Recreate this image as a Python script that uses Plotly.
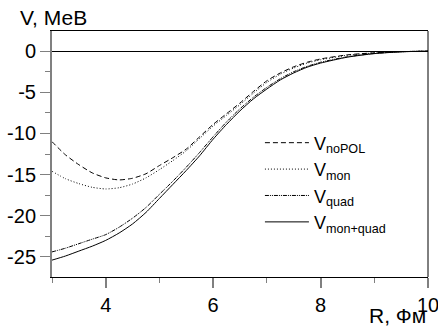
import plotly.graph_objects as go

R = [3.0, 3.25, 3.5, 3.75, 4.0, 4.25, 4.5, 4.75, 5.0, 5.25, 5.5, 5.75, 6.0, 6.25, 6.5, 6.75, 7.0, 7.25, 7.5, 7.75, 8.0, 8.5, 9.0, 9.5, 10.0]
V_noPOL = [-11.0, -12.6, -13.8, -14.8, -15.4, -15.65, -15.45, -14.9, -13.9, -12.95, -11.9, -10.4, -8.9, -7.6, -6.3, -4.9, -3.6, -2.65, -1.9, -1.35, -0.95, -0.45, -0.2, -0.06, 0.0]
V_mon = [-14.6, -15.5, -16.1, -16.55, -16.75, -16.6, -16.15, -15.4, -14.4, -13.3, -12.1, -10.6, -9.1, -7.8, -6.5, -5.1, -3.8, -2.8, -2.05, -1.45, -1.05, -0.5, -0.22, -0.06, 0.0]
V_quad = [-24.4, -23.95, -23.4, -22.85, -22.3, -21.4, -20.3, -19.0, -17.4, -15.8, -14.1, -12.3, -10.4, -8.6, -7.0, -5.6, -4.4, -3.35, -2.5, -1.85, -1.35, -0.68, -0.28, -0.07, 0.0]
V_monquad = [-25.4, -24.9, -24.3, -23.7, -23.0, -22.1, -21.0, -19.6, -17.9, -16.2, -14.5, -12.7, -10.7, -8.9, -7.25, -5.8, -4.6, -3.5, -2.65, -1.95, -1.45, -0.73, -0.3, -0.08, 0.0]

names = ["V<sub>noPOL</sub>", "V<sub>mon</sub>", "V<sub>quad</sub>", "V<sub>mon+quad</sub>"]
series = [V_noPOL, V_mon, V_quad, V_monquad]
dashes = ["5px,3px", "1px,2px", "4px,1px,1px,1px,1px,1px", "solid"]

fig = go.Figure()
for nm, ys, d in zip(names, series, dashes):
    fig.add_trace(go.Scatter(x=R, y=ys, mode="lines", name=nm,
                             line=dict(color="black", width=1, dash=d, shape="spline", smoothing=0.6)))

fam = "Liberation Sans, Arial, sans-serif"
tickfont = dict(family=fam, size=20, color="black")
titlefont = dict(family=fam, size=21, color="black")
fig.update_layout(
    width=438, height=328,
    margin=dict(l=52, r=10, t=31, b=51, autoexpand=False),
    paper_bgcolor="white", plot_bgcolor="white",
    font=tickfont,
    showlegend=True,
    legend=dict(x=0.553, y=0.62, xanchor="left", yanchor="top", bgcolor="rgba(0,0,0,0)",
                font=dict(family=fam, size=18, color="black"), tracegroupgap=0,
                itemwidth=44),
    xaxis=dict(range=[3, 10], tickvals=[4, 6, 8, 10], showgrid=False, zeroline=False,
               showline=True, linecolor="black", linewidth=1, mirror=True,
               ticks="outside", ticklen=10, tickcolor="#808080", tickwidth=2,
               ticklabeloverflow="allow", automargin=False,
               minor=dict(tickvals=[3, 5, 7, 9], ticks="outside", ticklen=5, tickcolor="#808080", tickwidth=1),
               tickfont=tickfont),
    yaxis=dict(range=[-27.45, 2.45], tickvals=[0, -5, -10, -15, -20, -25], ticktext=["0", "-5", "-10", "-15", "-20", "-25"],
               showgrid=False, zeroline=True, zerolinecolor="black", zerolinewidth=1,
               showline=True, linecolor="#808080", linewidth=2, automargin=False,
               ticks="outside", ticklen=10, tickcolor="#808080", tickwidth=1,
               minor=dict(tickvals=[-2.5, -7.5, -12.5, -17.5, -22.5], ticks="outside", ticklen=5, tickcolor="#808080", tickwidth=1),
               tickfont=tickfont),
    shapes=[dict(type="line", xref="paper", yref="paper", x0=1, x1=1, y0=0, y1=1,
                 line=dict(color="black", width=1))],
    annotations=[
        dict(text="V, МеВ", xref="paper", yref="paper", x=-0.09, y=1.0, xanchor="left", yanchor="bottom",
             showarrow=False, font=titlefont, yshift=0),
        dict(text="R, Фм", xref="paper", yref="paper", x=1.0, y=0, xanchor="right", yanchor="top",
             showarrow=False, font=titlefont, yshift=-25),
    ],
)
fig.write_html("out.html")
